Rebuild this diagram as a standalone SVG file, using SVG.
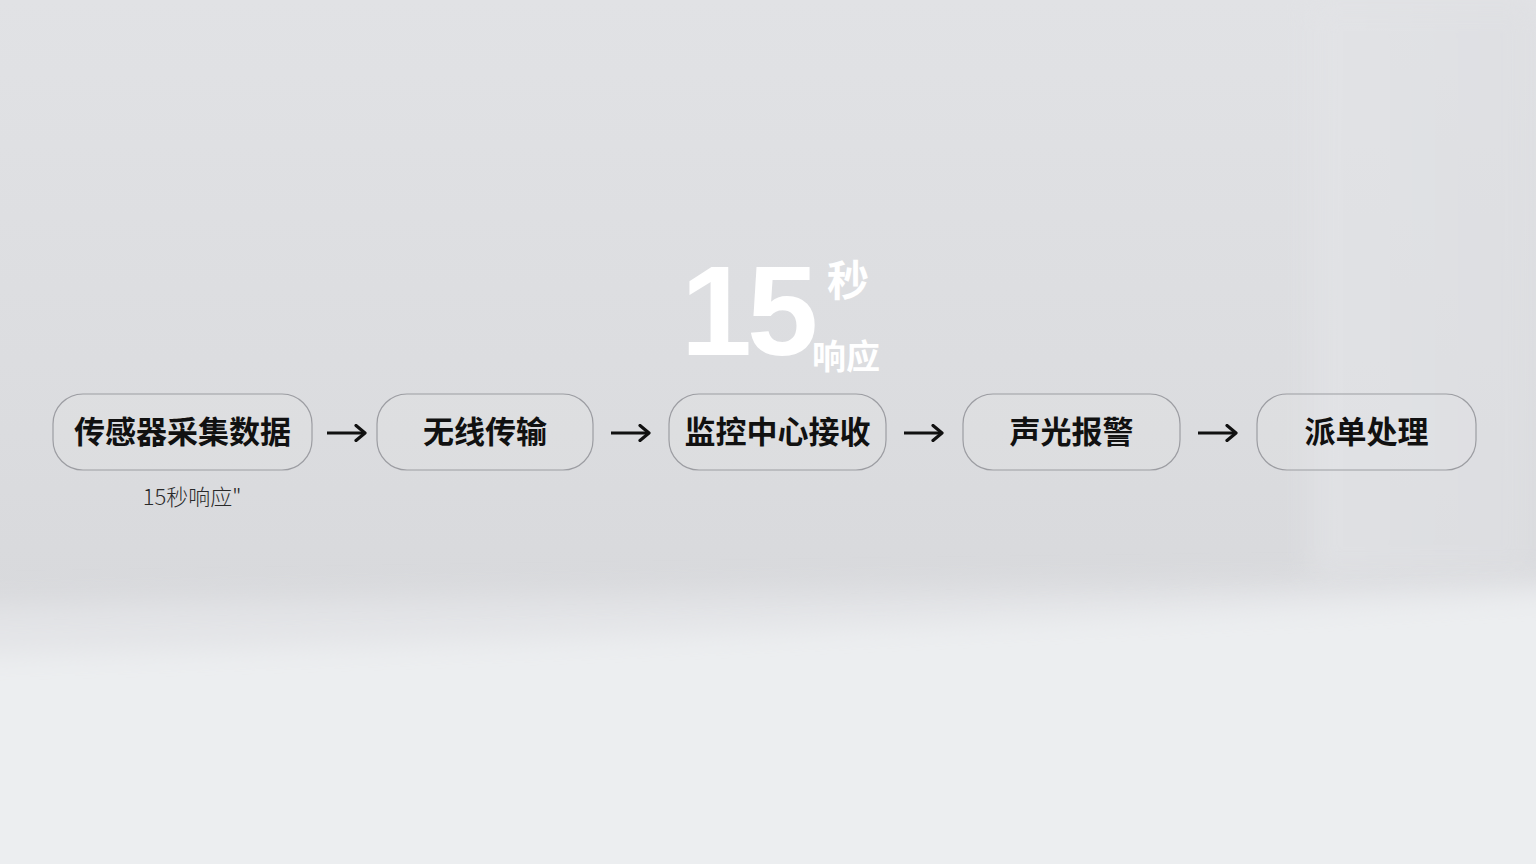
<svg xmlns="http://www.w3.org/2000/svg" width="1536" height="864" viewBox="0 0 1536 864">
<defs>
<linearGradient id="bg" x1="0" y1="0" x2="0" y2="1">
<stop offset="0" stop-color="#e1e2e5"/>
<stop offset="0.5" stop-color="#dbdcdf"/>
<stop offset="0.7" stop-color="#d8d9dc"/>
<stop offset="1" stop-color="#dcdde0"/>
</linearGradient>
<linearGradient id="wall" x1="0" y1="0" x2="1" y2="0">
<stop offset="0" stop-color="#e3e4e7"/>
<stop offset="1" stop-color="#dedfe2"/>
</linearGradient>
<filter id="soft" x="-10%" y="-30%" width="120%" height="160%">
<feGaussianBlur stdDeviation="14"/>
</filter>
<marker id="ah" viewBox="0 0 14 18" refX="11" refY="9" markerWidth="14" markerHeight="18" markerUnits="userSpaceOnUse" orient="auto">
<path d="M2 1.5 L11 9 L2 16.5" fill="none" stroke="#111111" stroke-width="3.2" stroke-linecap="round" stroke-linejoin="round"/>
</marker>
<style>
.box{fill:#ffffff;fill-opacity:0.06;stroke:#9c9da2;stroke-width:1.2}
.lbl{font-family:"Noto Sans CJK SC","Noto Sans",sans-serif;font-weight:700;font-size:31px;fill:#111111;text-anchor:middle}
.conn{stroke:#111111;stroke-width:3;fill:none;marker-end:url(#ah)}
</style>
</defs>
<rect width="1536" height="864" fill="url(#bg)"/>
<rect x="1310" y="0" width="226" height="578" fill="url(#wall)" opacity="0.7" filter="url(#soft)"/>
<path d="M-40 605 Q700 592 1580 582 L1580 900 L-40 900 Z" fill="#e3e4e7" filter="url(#soft)"/>
<path d="M-40 655 Q700 640 1580 592 L1580 900 L-40 900 Z" fill="#eceef0" filter="url(#soft)"/>
<g id="title">
<text x="747" y="355" font-family="Liberation Sans, Arial, sans-serif" font-weight="700" font-size="128" fill="#ffffff" text-anchor="middle" letter-spacing="-5">15</text>
<text x="848" y="296" font-family="Noto Sans CJK SC, sans-serif" font-weight="700" font-size="42" fill="#ffffff" text-anchor="middle">秒</text>
<text x="846" y="369" font-family="Noto Sans CJK SC, sans-serif" font-weight="700" font-size="34" fill="#ffffff" text-anchor="middle">响应</text>
</g>
<g id="n1">
<rect class="box" x="53" y="394" width="259" height="76" rx="30"/>
<text class="lbl" x="182.5" y="443">传感器采集数据</text>
</g>
<g id="n2">
<rect class="box" x="377" y="394" width="216" height="76" rx="30"/>
<text class="lbl" x="485" y="443">无线传输</text>
</g>
<g id="n3">
<rect class="box" x="669" y="394" width="217" height="76" rx="30"/>
<text class="lbl" x="777.5" y="443">监控中心接收</text>
</g>
<g id="n4">
<rect class="box" x="963" y="394" width="217" height="76" rx="30"/>
<text class="lbl" x="1071.5" y="443">声光报警</text>
</g>
<g id="n5">
<rect class="box" x="1257" y="394" width="219" height="76" rx="30"/>
<text class="lbl" x="1366.5" y="443">派单处理</text>
</g>
<g id="connectors">
<path class="conn" d="M327 433 H365"/>
<path class="conn" d="M611 433 H649"/>
<path class="conn" d="M904 433 H942"/>
<path class="conn" d="M1198 433 H1236"/>
</g>
<g id="note">
<text x="192" y="505" font-family="Noto Sans CJK SC, sans-serif" font-size="22" fill="#2a2a2a" text-anchor="middle" font-weight="300">15秒响应"</text>
</g>
</svg>
